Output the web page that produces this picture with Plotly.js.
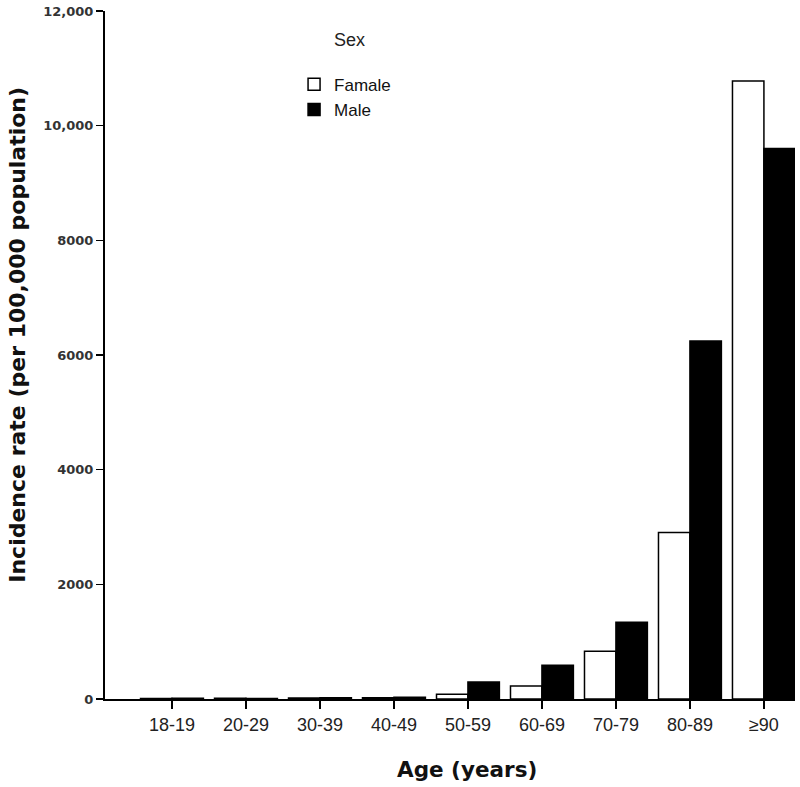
<!DOCTYPE html>
<html>
<head>
<meta charset="utf-8">
<script src="https://cdn.plot.ly/plotly-3.0.1.min.js"></script>
<style>html,body{margin:0;padding:0;background:#fff;}</style>
</head>
<body>
<div id="chart" style="width:800px;height:787px;"></div>
<script>
const ageGroups = ["18-19","20-29","30-39","40-49","50-59","60-69","70-79","80-89","≥90"];
const femaleRate = [8, 12, 18, 20, 85, 225, 835, 2905, 10780];
const maleRate   = [12, 10, 22, 30, 295, 590, 1340, 6245, 9600];
const yTickVals = [0, 2000, 4000, 6000, 8000, 10000, 12000];
const yTickText = ["0", "2000", "4000", "6000", "8000", "10,000", "12,000"];
const legendTitle = "Sex";
const xTitle = "Age (years)";
const yTitle = "Incidence rate (per 100,000 population)";

const traces = [
  {type:"bar", name:"Famale", x:ageGroups, y:femaleRate, legendgroup:"f",
   marker:{color:"#ffffff", line:{color:"#000000", width:1.5}}},
  {type:"bar", name:"Male", x:ageGroups, y:maleRate, legendgroup:"m",
   marker:{color:"#000000", line:{color:"#000000", width:1.5}}}
];

const layout = {
  width:800, height:787,
  margin:{l:105, r:5, t:11, b:88},
  paper_bgcolor:"#ffffff", plot_bgcolor:"#ffffff",
  barmode:"group", bargap:0.15, bargroupgap:0,
  font:{family:"Liberation Sans, Arial, sans-serif", color:"#000"},
  showlegend:true,
  legend:{
    x:0.274, y:0.919, xanchor:"left", yanchor:"top",
    bgcolor:"rgba(0,0,0,0)",
    font:{size:17, color:"#111"},
    tracegroupgap:5, traceorder:"normal", itemwidth:30
  },
  annotations:[
    {text:legendTitle, xref:"paper", yref:"paper", x:0.355, y:0.958,
     xanchor:"center", yanchor:"middle", showarrow:false,
     font:{size:18, color:"#222"}},
    {text:xTitle, xref:"paper", yref:"paper", x:0.525, y:-0.103,
     xanchor:"center", yanchor:"middle", showarrow:false,
     font:{family:"DejaVu Sans, sans-serif", size:21.5, color:"#111", weight:"bold"}},
    {text:yTitle, xref:"paper", yref:"paper", x:-0.128, y:0.529, textangle:-90,
     xanchor:"center", yanchor:"middle", showarrow:false,
     font:{family:"DejaVu Sans, sans-serif", size:22, color:"#111", weight:"bold"}}
  ],
  xaxis:{
    type:"category", range:[-0.905, 8.42],
    showline:true, linecolor:"#000", linewidth:2,
    ticks:"outside", ticklen:8, tickwidth:2, tickcolor:"#000",
    tickfont:{size:18, color:"#222"},
    showgrid:false, zeroline:false
  },
  yaxis:{
    range:[0, 12000],
    showline:true, linecolor:"#000", linewidth:2,
    ticks:"outside", ticklen:7, tickwidth:1.5, tickcolor:"#000",
    tickvals:yTickVals, ticktext:yTickText,
    tickfont:{size:13, color:"#333", family:"DejaVu Sans, sans-serif", weight:"bold"},
    showgrid:false, zeroline:false
  }
};

Plotly.newPlot("chart", traces, layout, {displayModeBar:false, staticPlot:true});
</script>
</body>
</html>
